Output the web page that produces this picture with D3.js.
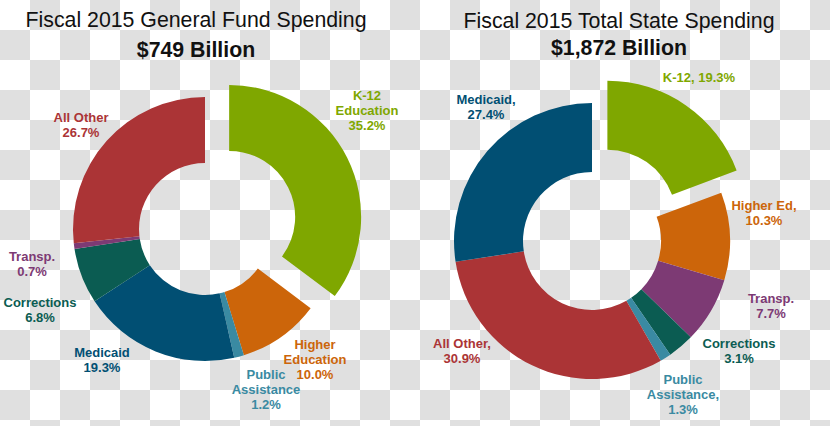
<!DOCTYPE html>
<html>
<head>
<meta charset="utf-8">
<script src="https://cdn.jsdelivr.net/npm/d3@7"></script>
<style>
  html, body { margin: 0; padding: 0; background: #fff; }
  svg { display: block; font-family: Arial, "Liberation Sans", sans-serif; }
</style>
</head>
<body>
<svg id="chart" width="830" height="426"></svg>
<script>
// ---------- data ----------
const gfCategories = ["K-12|Education", "Higher|Education", "Public|Assistance", "Medicaid", "Corrections", "Transp.", "All Other"];
const gfValues     = [35.2, 10.0, 1.2, 19.3, 6.8, 0.7, 26.7];
const gfExplode    = [1, 0, 0, 0, 0, 0, 0];

const tsCategories = ["K-12,", "Higher Ed,", "Transp.", "Corrections", "Public|Assistance,", "All Other,", "Medicaid,"];
const tsValues     = [19.3, 10.3, 7.7, 3.1, 1.3, 30.9, 27.4];
const tsExplode    = [1, 0, 0, 0, 0, 0, 0];
const tsInlineValue = [true, false, false, false, false, false, false];

const titles    = ["Fiscal 2015 General Fund Spending", "Fiscal 2015 Total State Spending"];
const subtitles = ["$749 Billion", "$1,872 Billion"];

// ---------- styling / layout ----------
const colorByKey = {
  "K-12": "#7fa700", "Higher": "#cc650a", "Public": "#3a8aa2", "Medicaid": "#014f73",
  "Corrections": "#0b5c52", "Transp.": "#7d3a74", "All": "#ab3436"
};
function colorFor(name) {
  const k = name.split(/[|, ]/)[0];
  return colorByKey[k];
}
const charts = [
  { cats: gfCategories, vals: gfValues, explode: gfExplode, inline: gfValues.map(() => false),
    cx: 205, cy: 229, r: 132, titleX: 196, titleY: 27, subY: 57,
    labels: [[367,100],[315,349],[266,379],[102,357],[40,307],[32,261],[81,122]] },
  { cats: tsCategories, vals: tsValues, explode: tsExplode, inline: tsInlineValue,
    cx: 592, cy: 241, r: 138, titleX: 619, titleY: 28, subY: 55,
    labels: [[699,82],[764,210],[771,303],[739,348],[683,384],[462,348],[486,104]] }
];
const explodeDist = 27;
const lineH = 15;
const fmt = d3.format(".1f");

const svg = d3.select("#chart");

// checkerboard background
const defs = svg.append("defs");
const pat = defs.append("pattern").attr("id", "checker")
  .attr("width", 60).attr("height", 60).attr("patternUnits", "userSpaceOnUse");
pat.append("rect").attr("width", 60).attr("height", 60).attr("fill", "#ffffff");
pat.append("rect").attr("x", 30).attr("y", 0).attr("width", 30).attr("height", 30).attr("fill", "#e0e0e0");
pat.append("rect").attr("x", 0).attr("y", 30).attr("width", 30).attr("height", 30).attr("fill", "#e0e0e0");
svg.append("rect").attr("width", 830).attr("height", 426).attr("fill", "url(#checker)");

charts.forEach((c, ci) => {
  const data = c.cats.map((name, i) => ({ name, value: c.vals[i], explode: c.explode[i], inline: c.inline[i], lp: c.labels[i] }));
  const pie = d3.pie().sort(null).value(d => d.value).startAngle(0).endAngle(2 * Math.PI);
  const arc = d3.arc().innerRadius(c.r * 0.5).outerRadius(c.r);
  const arcs = pie(data);

  const g = svg.append("g").attr("transform", `translate(${c.cx},${c.cy})`);
  g.selectAll("path").data(arcs).join("path")
    .attr("d", arc)
    .attr("fill", d => colorFor(d.data.name))
    .attr("transform", d => {
      if (!d.data.explode) return null;
      const a = (d.startAngle + d.endAngle) / 2;
      return `translate(${Math.sin(a) * explodeDist},${-Math.cos(a) * explodeDist})`;
    });

  // labels
  arcs.forEach(d => {
    const parts = d.data.name.split("|");
    const v = fmt(d.data.value) + "%";
    let lines;
    if (d.data.inline) { lines = parts.slice(); lines[lines.length - 1] += " " + v; }
    else lines = parts.concat([v]);
    const t = svg.append("text")
      .attr("x", d.data.lp[0]).attr("y", d.data.lp[1])
      .attr("text-anchor", "middle")
      .attr("font-size", 13).attr("font-weight", "bold")
      .attr("fill", colorFor(d.data.name));
    lines.forEach((ln, li) => {
      t.append("tspan").attr("x", d.data.lp[0]).attr("dy", li === 0 ? 0 : lineH).text(ln);
    });
  });

  svg.append("text").attr("x", c.titleX).attr("y", c.titleY)
    .attr("text-anchor", "middle").attr("font-size", 21.3).attr("fill", "#111")
    .text(titles[ci]);
  svg.append("text").attr("x", c.titleX).attr("y", c.subY)
    .attr("text-anchor", "middle").attr("font-size", 21.3).attr("font-weight", "bold").attr("fill", "#111")
    .text(subtitles[ci]);
});
</script>
</body>
</html>
